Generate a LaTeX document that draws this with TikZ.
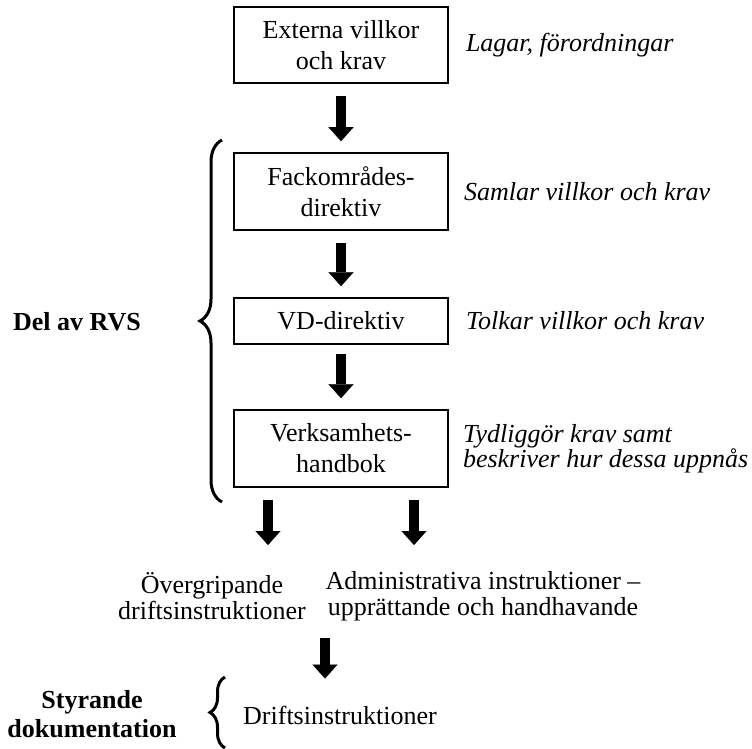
\documentclass[tikz,border=0pt]{standalone}
\usepackage{fontspec}
\setmainfont{Liberation Serif}
\usepackage{tikz}
\usetikzlibrary{arrows.meta,calc,positioning,decorations.pathreplacing}

\begin{document}
\begin{tikzpicture}[x=1pt,y=-1pt,
  font=\fontsize{26}{26}\selectfont,
  docbox/.style={draw,line width=1.6pt,minimum width=214pt,minimum height=77pt,
    inner sep=0pt,align=center,font=\fontsize{26}{31}\selectfont},
  note/.style={inner sep=0pt,align=left,font=\itshape\fontsize{26}{25}\selectfont},
  blockarrow/.style={line width=10pt,
    -{Triangle[length=14pt,width=25pt,line width=0.1pt]},
    shorten <=12pt,shorten >=11pt},
  bigbrace/.style={decorate,line width=3pt,decoration={brace,amplitude=#1}}]
  \useasboundingbox (0,0) rectangle (752,749);
  % boxes
  \node[docbox,minimum height=76pt] (ext) at (341,45) {Externa villkor\\och krav};
  \node[docbox] (fack) at (341,191.5) {Fackområdes-\\direktiv};
  \node[docbox,minimum height=46pt] (vd) at (341,321) {VD-direktiv};
  \node[docbox] (verk) at (341,448.5) {Verksamhets-\\handbok};
  % comments to the right
  \node[note,right=17pt of ext] (extnote) {Lagar, förordningar};
  \node[note,right=15pt of fack] (facknote) {Samlar villkor och krav};
  \node[note,right=17pt of vd] (vdnote) {Tolkar villkor och krav};
  \node[note,right=14pt of verk] (verknote) {Tydliggör krav samt\\beskriver hur dessa uppnås};
  % lower level
  \node[inner sep=0pt,align=center] (oever) at (212,596) {Övergripande\\driftsinstruktioner};
  \node[inner sep=0pt,align=center] (admin) at (483,596) {Administrativa instruktioner --\\upprättande och handhavande};
  \node[inner sep=0pt,anchor=west] (drift) at (243,715) {Driftsinstruktioner};
  \node[inner sep=0pt,font=\bfseries\fontsize{26}{26}\selectfont] (rvs) at (77,322) {Del av RVS};
  \node[inner sep=0pt,align=center,font=\bfseries\fontsize{26}{29}\selectfont] (styr) at (92,714) {Styrande\\dokumentation};
  \coordinate (split1) at (268,545);
  \coordinate (split2) at (414,545);
  \coordinate (merge) at (325,0);
  % arrows
  \draw[blockarrow] (ext) -- (fack);
  \draw[blockarrow] (fack) -- (vd);
  \draw[blockarrow,shorten <=9pt] (vd) -- (verk);
  \draw[blockarrow,shorten >=0pt] (verk.south -| split1) -- (split1);
  \draw[blockarrow,shorten >=0pt] (verk.south -| split2) -- (split2);
  \draw[blockarrow,shorten <=18pt,shorten >=27pt] (oever.south -| merge) -- (drift.north -| merge);
  % braces
  \draw[bigbrace=22pt] (222,502) -- (222,140);
  \draw[bigbrace=15pt] (225,748) -- (225,677);
\end{tikzpicture}
\end{document}
